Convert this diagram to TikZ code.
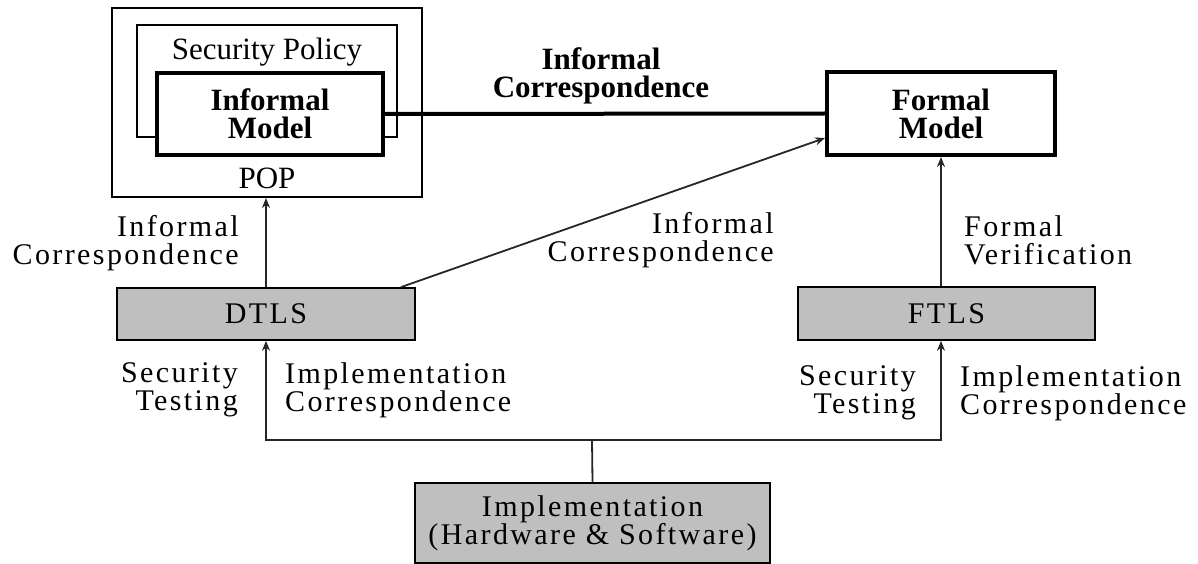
\documentclass[tikz,border=0pt]{standalone}
\usepackage{fontspec}
\setmainfont{Liberation Serif}
\newfontfamily\labfont[LetterSpace=8]{Liberation Serif}
\usetikzlibrary{arrows.meta}
\begin{document}
\begin{tikzpicture}[x=1pt,y=-1pt,
  thinbox/.style={draw=black,line width=2pt,fill=white,inner sep=0pt},
  thickbox/.style={draw=black,line width=4pt,fill=white,inner sep=0pt,
    font=\bfseries\fontsize{31}{28}\selectfont,align=center},
  shadebox/.style={draw=black,line width=1.6pt,fill=black!25,inner sep=0pt,
    font=\labfont\fontsize{30}{28}\selectfont,align=center},
  boxtext/.style={inner sep=0pt,font=\fontsize{31}{28}\selectfont},
  lab/.style={inner sep=0pt,font=\labfont\fontsize{30}{28}\selectfont},
  boldlab/.style={inner sep=0pt,font=\bfseries\fontsize{31}{28}\selectfont,align=center},
  conn/.style={draw=black!85,line width=1.8pt},
  arr/.style={conn,-{Stealth[length=10pt,width=8pt]}},
  heavy/.style={draw=black,line width=4pt}]
\useasboundingbox (0,0) rectangle (1198,564);
% POP and nested boxes
\node[thinbox,minimum width=310pt,minimum height=189pt] (POP) at (267,102.5) {};
\node[thinbox,minimum width=260pt,minimum height=112pt] (SP) at (267,81) {};
\node[boxtext] (SPtext) at (267,52) {Security Policy};
\node[boxtext] (POPtext) at (267,178) {POP};
\node[thickbox,minimum width=226pt,minimum height=82pt] (IM) at (270,114) {Informal\\Model};
\node[thickbox,minimum width=228pt,minimum height=83pt] (FM) at (941,113.5) {Formal\\Model};
% shaded boxes
\node[shadebox,minimum width=298pt,minimum height=52pt] (DTLS) at (266,314) {DTLS};
\node[shadebox,minimum width=297pt,minimum height=53pt] (FTLS) at (946.5,313.5) {FTLS};
\node[shadebox,minimum width=355pt,minimum height=80pt] (IMPL) at (592.5,523) {Implementation\\(Hardware \& Software)};
\coordinate (junc) at (592,440);
% connectors
\draw[heavy] (IM.east) -- (FM.west);
\draw[arr] (DTLS.north) -- (DTLS.north |- POP.south);
\draw[arr] ([xshift=-15pt]DTLS.north east) -- ([yshift=19pt]FM.south west);
\draw[arr] (FTLS.north -| FM.south) -- (FM.south);
\draw[conn] (IMPL.north) -- (junc);
\draw[arr] (junc) -| (DTLS.south);
\draw[arr] (junc) -| (FTLS.south -| FM.south);
% labels
\node[boldlab] (lab1) at (601,76) {Informal\\Correspondence};
\node[lab,align=right,anchor=east] (lab2) at (239,243) {Informal\\Correspondence};
\node[lab,align=right,anchor=east] (lab3) at (774,240) {Informal\\Correspondence};
\node[lab,align=left,anchor=west] (lab4) at (964,240) {Formal\\Verification};
\node[lab,align=right,anchor=east] (lab5) at (238,390) {Security\\Testing};
\node[lab,align=left,anchor=west] (lab6) at (285,390) {Implementation\\Correspondence};
\node[lab,align=right,anchor=east] (lab7) at (916,393) {Security\\Testing};
\node[lab,align=left,anchor=west] (lab8) at (960,393) {Implementation\\Correspondence};
\end{tikzpicture}
\end{document}
